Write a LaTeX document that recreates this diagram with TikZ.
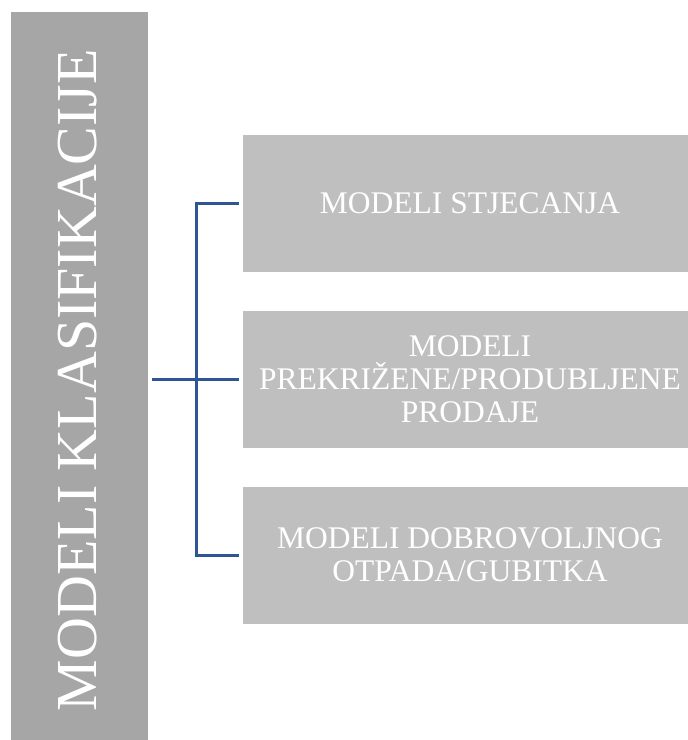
\documentclass[tikz,border=0pt]{standalone}
\usepackage{fontspec}
\setmainfont{Liberation Serif}
\definecolor{rootgray}{HTML}{A6A6A6}
\definecolor{leafgray}{HTML}{BFBFBF}
\definecolor{linkblue}{HTML}{2F5597}
\begin{document}
\begin{tikzpicture}[x=1pt,y=-1pt,
  rootbox/.style={fill=rootgray, draw=none, inner sep=0pt,
    minimum width=137pt, minimum height=728pt},
  roottext/.style={text=white, inner sep=0pt, rotate=90,
    font=\fontsize{58}{60}\selectfont},
  leafbox/.style={fill=leafgray, draw=none, inner sep=0pt, text=white,
    minimum width=454pt, minimum height=137pt, align=center,
    font=\fontsize{31.5}{33}\selectfont},
  link/.style={draw=linkblue, line width=3pt, line join=miter}]
\useasboundingbox (0,0) rectangle (688,740);

% category column on the left
\node[rootbox] (root) at (79.5,376) {};
\node[roottext] (rootlabel) at (77.5,380) {MODELI KLASIFIKACIJE};

% the three model groups
\node[leafbox] (b1) at (470,203.5) {MODELI STJECANJA};
\node[leafbox] (b2) at (470,379) {MODELI\\PREKRIŽENE/PRODUBLJENE\\PRODAJE};
\node[leafbox] (b3) at (470,555) {MODELI DOBROVOLJNOG\\OTPADA/GUBITKA};

% bracket joining the column to the groups
\coordinate (bus) at (196,379);
\draw[link] ([xshift=4pt]root.east |- b2.west) -- ([xshift=-4pt]b2.west);
\draw[link] ([xshift=-4pt]b1.west) -| (bus |- b3.west) -- ([xshift=-4pt]b3.west);
\end{tikzpicture}
\end{document}
